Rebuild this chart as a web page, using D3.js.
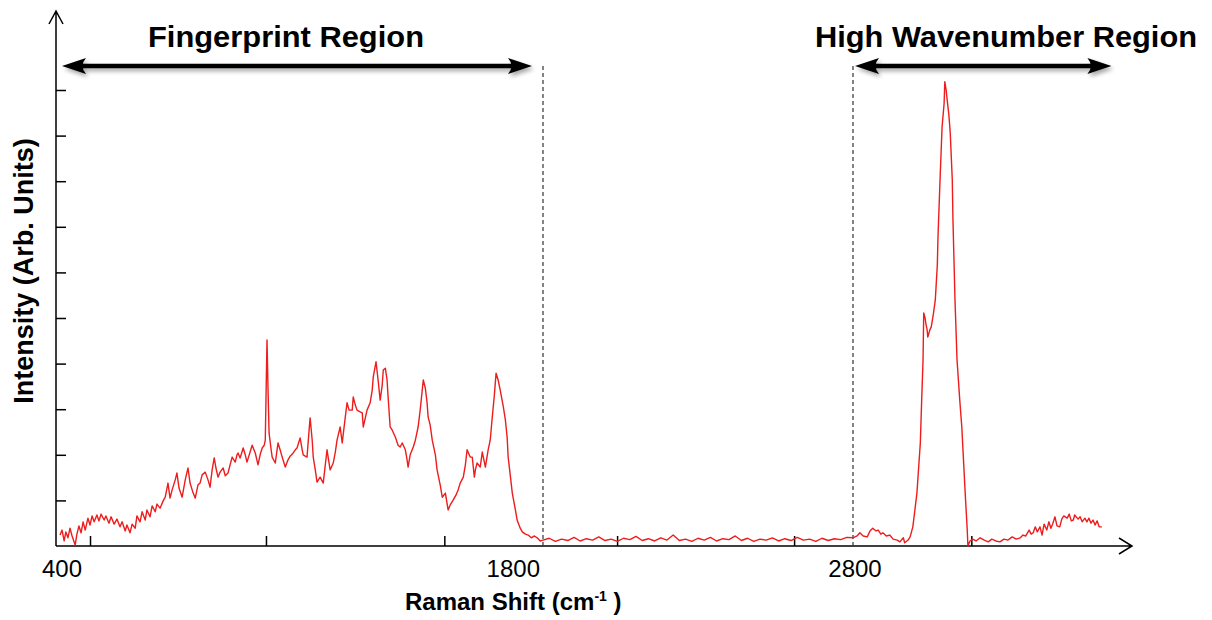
<!DOCTYPE html>
<html>
<head>
<meta charset="utf-8">
<script src="https://cdn.jsdelivr.net/npm/d3@7"></script>
<style>
  body { margin: 0; background: #fff; }
  svg { display: block; font-family: "Liberation Sans", Arial, sans-serif; }
  .tick_label { font-size: 24px; fill: #000; }
  .region_label { font-size: 30px; font-weight: bold; fill: #000; }
  .axis_label { font-weight: bold; fill: #000; }
</style>
</head>
<body>
<script>
var width = 1212, height = 620;

// Fingerprint part of the spectrum (Raman shift in cm-1, intensity in arb. units)
var fingerprintShift = [400, 406, 412, 417, 423, 429, 435, 444, 449, 455, 461, 467, 473, 481, 487, 493, 499, 507, 513, 519,
  528, 533, 542, 548, 557, 565, 574, 580, 589, 594, 603, 609, 618, 623, 632, 638, 647, 652, 661, 667,
  676, 681, 690, 699, 705, 713, 719, 725, 734, 739, 745, 754, 763, 771, 777, 786, 792, 800, 806, 812,
  821, 829, 835, 841, 847, 852, 858, 864, 873, 879, 887, 893, 899, 908, 913, 916, 922, 931, 937, 942,
  951, 957, 966, 974, 980, 986, 992, 995, 997, 1000, 1003, 1006, 1012, 1015, 1024, 1032, 1038, 1044, 1053, 1061,
  1067, 1076, 1082, 1087, 1096, 1102, 1105, 1111, 1116, 1122, 1125, 1131, 1134, 1140, 1145, 1154, 1163, 1169, 1174, 1183,
  1192, 1198, 1203, 1212, 1218, 1227, 1232, 1238, 1247, 1250, 1256, 1261, 1270, 1276, 1279, 1285, 1290, 1299, 1305, 1308,
  1316, 1322, 1328, 1334, 1337, 1343, 1348, 1351, 1357, 1363, 1372, 1380, 1386, 1392, 1401, 1406, 1409, 1415, 1424, 1430,
  1438, 1444, 1450, 1453, 1459, 1464, 1467, 1473, 1479, 1488, 1493, 1502, 1508, 1517, 1525, 1531, 1540, 1548, 1554, 1560,
  1569, 1575, 1580, 1589, 1595, 1601, 1604, 1609, 1618, 1624, 1633, 1641, 1647, 1653, 1659, 1664, 1670, 1676, 1685, 1691,
  1696, 1699, 1705, 1711, 1720, 1725, 1734, 1740, 1749, 1757, 1766, 1775, 1783, 1792, 1800];
var fingerprintIntensity = [0.24, 0.35, 0.11, 0.31, 0.18, 0.39, 0.22, 0.02, 0.26, 0.44, 0.29, 0.53, 0.35, 0.61, 0.46, 0.66, 0.53, 0.68, 0.55, 0.70,
  0.57, 0.66, 0.50, 0.64, 0.48, 0.59, 0.42, 0.53, 0.33, 0.46, 0.29, 0.48, 0.39, 0.66, 0.53, 0.75, 0.57, 0.79, 0.64, 0.88,
  0.75, 0.92, 0.83, 0.99, 1.07, 1.38, 1.05, 1.23, 1.45, 1.60, 1.27, 1.07, 1.45, 1.71, 1.38, 1.16, 1.05, 1.34, 1.38, 1.56,
  1.62, 1.45, 1.29, 1.67, 1.93, 1.71, 1.51, 1.62, 1.71, 1.54, 1.60, 1.78, 1.95, 1.84, 2.00, 2.04, 1.93, 2.15, 2.00, 1.84,
  2.06, 2.21, 2.04, 1.78, 2.00, 2.15, 2.21, 2.32, 3.20, 4.52, 3.42, 2.48, 2.11, 1.95, 1.82, 2.26, 2.11, 1.95, 1.73, 1.89,
  1.97, 2.04, 2.11, 2.15, 2.37, 2.11, 2.00, 1.97, 1.95, 2.54, 2.81, 2.32, 1.95, 1.67, 1.40, 1.51, 1.38, 1.78, 2.11, 1.67,
  1.82, 2.06, 2.32, 2.61, 2.26, 2.83, 3.14, 2.98, 2.98, 3.27, 3.09, 2.98, 2.94, 2.92, 2.61, 2.81, 2.98, 3.14, 3.42, 3.71,
  4.04, 3.64, 3.20, 3.53, 3.86, 3.90, 3.64, 3.27, 2.61, 2.54, 2.39, 2.21, 2.17, 2.26, 2.11, 1.89, 1.73, 2.00, 2.17, 2.32,
  2.61, 2.98, 3.42, 3.64, 3.46, 3.14, 2.83, 2.65, 2.32, 2.00, 1.67, 1.34, 1.07, 1.16, 0.79, 0.90, 1.01, 1.12, 1.23, 1.38,
  1.51, 1.78, 2.11, 1.95, 1.95, 1.51, 1.67, 1.82, 1.73, 2.06, 1.73, 2.11, 2.32, 2.83, 3.31, 3.79, 3.64, 3.42, 3.05, 2.76,
  2.39, 1.95, 1.56, 1.16, 0.79, 0.57, 0.39, 0.31, 0.26, 0.24, 0.18, 0.22, 0.18, 0.11, 0.13];

// Silent region between the two windows
var silentShift = [1820, 1840, 1860, 1880, 1900, 1920, 1940, 1960, 1980, 2000, 2020, 2040, 2060, 2080, 2100, 2120, 2140, 2160, 2180, 2200,
  2220, 2240, 2260, 2280, 2300, 2320, 2340, 2360, 2380, 2400, 2420, 2440, 2460, 2480, 2500, 2520, 2540, 2560, 2580, 2600,
  2620, 2640, 2660, 2680, 2700, 2720, 2740, 2760, 2780];
var silentIntensity = [0.17, 0.10, 0.15, 0.12, 0.19, 0.11, 0.16, 0.13, 0.20, 0.12, 0.15, 0.10, 0.17, 0.14, 0.21, 0.12, 0.16, 0.11, 0.18, 0.13,
  0.24, 0.12, 0.15, 0.10, 0.17, 0.13, 0.19, 0.11, 0.16, 0.14, 0.22, 0.12, 0.17, 0.10, 0.15, 0.13, 0.18, 0.11, 0.16, 0.12,
  0.19, 0.13, 0.15, 0.10, 0.17, 0.12, 0.16, 0.14, 0.19];

// High wavenumber part
var highShift = [2800, 2806, 2810, 2815, 2821, 2825, 2829, 2834, 2837, 2841, 2844, 2849, 2854, 2859, 2865, 2869, 2874, 2876, 2881, 2884,
  2888, 2891, 2894, 2899, 2901, 2903, 2904, 2906, 2907, 2909, 2910, 2913, 2915, 2918, 2921, 2924, 2925, 2928, 2931, 2934,
  2935, 2937, 2938, 2941, 2943, 2946, 2947, 2950, 2953, 2957, 2960, 2965, 2968, 2969, 2972, 2976, 2981, 2987, 2993, 2999,
  3004, 3010, 3016, 3022, 3028, 3034, 3040, 3046, 3050, 3054, 3059, 3062, 3065, 3068, 3071, 3075, 3078, 3081, 3085, 3088,
  3091, 3094, 3097, 3100, 3104, 3107, 3110, 3115, 3118, 3121, 3124, 3126, 3131, 3134, 3137, 3141, 3144, 3147, 3150, 3153,
  3156, 3159, 3162, 3166];
var highIntensity = [0.18, 0.22, 0.29, 0.22, 0.20, 0.33, 0.39, 0.33, 0.35, 0.26, 0.29, 0.22, 0.24, 0.15, 0.13, 0.09, 0.18, 0.07, 0.13, 0.20,
  0.42, 0.79, 1.16, 2.26, 3.20, 4.08, 5.11, 5.00, 4.89, 4.74, 4.58, 4.74, 4.80, 5.07, 5.39, 6.16, 6.78, 8.03, 9.19, 9.71,
  10.18, 10.00, 9.85, 9.45, 9.06, 8.03, 7.15, 5.39, 4.08, 3.20, 2.61, 1.16, 0.35, 0.00, 0.11, 0.15, 0.11, 0.18, 0.13, 0.09,
  0.15, 0.11, 0.09, 0.15, 0.13, 0.20, 0.15, 0.18, 0.24, 0.22, 0.35, 0.26, 0.29, 0.42, 0.31, 0.42, 0.24, 0.48, 0.35, 0.53,
  0.39, 0.50, 0.64, 0.44, 0.42, 0.59, 0.66, 0.61, 0.70, 0.55, 0.57, 0.68, 0.59, 0.64, 0.53, 0.61, 0.53, 0.61, 0.50, 0.57,
  0.46, 0.55, 0.42, 0.42];

// Axes
var yTicks = [1, 2, 3, 4, 5, 6, 7, 8, 9, 10];
var xTicks = [487, 997, 1514, 2039, 2610, 2974];
var xTickLabels = [400, 1800, 2800];

// Annotated regions
var regionNames = ["Fingerprint Region", "High Wavenumber Region"];
var regionStart = [400, 2800];
var regionEnd = [1800, 3180];

var spectrum = [];
[[fingerprintShift, fingerprintIntensity], [silentShift, silentIntensity], [highShift, highIntensity]].forEach(function(part){
  part[0].forEach(function(s, i){
    spectrum.push({shift: s, intensity: part[1][i]});
  });
});

var svg = d3.select("body")
            .append("svg")
            .attr("width", width)
            .attr("height", height);

var defs = svg.append("defs");
var shadow = defs.append("filter")
    .attr("id", "shadow")
    .attr("x", "-5%").attr("y", "-100%")
    .attr("width", "110%").attr("height", "300%");
shadow.append("feDropShadow")
    .attr("dx", 2).attr("dy", 3)
    .attr("stdDeviation", 2)
    .attr("flood-color", "#000")
    .attr("flood-opacity", 0.35);

// scales: the figure compresses the silent region, so the x scale is piecewise
var xScale = d3.scaleLinear()
               .domain([400, 1800, 2800, 3200])
               .range([60, 543, 853, 1125]);

var yScale = d3.scaleLinear()
               .domain([0, 10])
               .range([546, 90]);

var axisX = 56;          // y axis position
var axisY = yScale(0);   // x axis position

// Y axis ticks (pointing inside)
var yAxis = d3.axisLeft(yScale)
              .tickValues(yTicks)
              .tickSize(-10)
              .tickFormat("");

var gy = svg.append("g")
    .attr("transform", "translate(" + axisX + ",0)")
    .call(yAxis);
gy.select(".domain").remove();
gy.selectAll(".tick line").attr("stroke", "#000").attr("stroke-width", 1.5);

// X axis ticks
var xAxis = d3.axisBottom(xScale)
              .tickValues(xTicks)
              .tickSize(-10)
              .tickFormat("");

var gx = svg.append("g")
    .attr("transform", "translate(0," + axisY + ")")
    .call(xAxis);
gx.select(".domain").remove();
gx.selectAll(".tick line").attr("stroke", "#000").attr("stroke-width", 1.5);

// axis lines with open arrow heads
svg.append("path")
    .attr("d", "M" + axisX + "," + axisY + " L" + axisX + ",11 M" + (axisX - 7) + ",24 L" + axisX + ",11 L" + (axisX + 7) + ",24")
    .attr("fill", "none")
    .attr("stroke", "#000")
    .attr("stroke-width", 1.5);

svg.append("path")
    .attr("d", "M" + axisX + "," + axisY + " L1132," + axisY + " M1119," + (axisY - 8) + " L1132," + axisY + " L1119," + (axisY + 8))
    .attr("fill", "none")
    .attr("stroke", "#000")
    .attr("stroke-width", 1.5);

// dashed region borders
var arrowY = 66;
svg.selectAll(".border")
    .data([1800, 2800])
    .enter()
    .append("line")
    .attr("class", "border")
    .attr("x1", function(d){ return xScale(d); })
    .attr("x2", function(d){ return xScale(d); })
    .attr("y1", arrowY)
    .attr("y2", axisY)
    .attr("stroke", "#333")
    .attr("stroke-width", 1.2)
    .attr("stroke-dasharray", "4,3");

// spectrum
var line = d3.line()
    .x(function(d){ return xScale(d.shift); })
    .y(function(d){ return yScale(d.intensity); });

svg.append("path")
    .datum(spectrum)
    .attr("d", line)
    .attr("fill", "none")
    .attr("stroke", "#ee1c1c")
    .attr("stroke-width", 1.4)
    .attr("stroke-linejoin", "round");

// double headed arrows
function arrowHead(x, y, dir) {
  // dir = 1 points right, -1 points left
  var l = 24, w = 8;
  return "M" + x + "," + y +
         " L" + (x - dir * l) + "," + (y - w) +
         " Q" + (x - dir * (l - 7)) + "," + y + " " + (x - dir * l) + "," + (y + w) + " Z";
}

regionNames.forEach(function(name, i){
  var x1 = xScale(regionStart[i]) + 2;
  var x2 = xScale(regionEnd[i]) - (i == 0 ? 11 : 0);
  var g = svg.append("g").attr("filter", "url(#shadow)");
  g.append("line")
    .attr("x1", x1 + 12).attr("x2", x2 - 12)
    .attr("y1", arrowY).attr("y2", arrowY)
    .attr("stroke", "#000")
    .attr("stroke-width", 4.5);
  g.append("path").attr("d", arrowHead(x2, arrowY, 1)).attr("fill", "#000");
  g.append("path").attr("d", arrowHead(x1, arrowY, -1)).attr("fill", "#000");
});

// region titles
svg.append("text")
    .attr("class", "region_label")
    .attr("x", 148)
    .attr("y", 47)
    .attr("textLength", 276)
    .attr("lengthAdjust", "spacingAndGlyphs")
    .text(regionNames[0]);

svg.append("text")
    .attr("class", "region_label")
    .attr("x", 815)
    .attr("y", 47)
    .attr("textLength", 382)
    .attr("lengthAdjust", "spacingAndGlyphs")
    .text(regionNames[1]);

// x tick labels
svg.selectAll(".tick_label")
    .data(xTickLabels)
    .enter()
    .append("text")
    .attr("class", "tick_label")
    .attr("x", function(d){ return d == 1800 ? xScale(d) - 3 : xScale(d) + 2; })
    .attr("y", 577)
    .attr("text-anchor", function(d){ return d == 1800 ? "end" : "middle"; })
    .text(function(d){ return d; });

// X axis label
var xl = svg.append("text")
    .attr("class", "axis_label")
    .attr("x", 405)
    .attr("y", 610)
    .style("font-size", "24px");
xl.append("tspan").text("Raman Shift (cm");
xl.append("tspan").attr("dy", -9).style("font-size", "14px").text("-1");
xl.append("tspan").attr("dy", 9).text(" )");

// Y axis label
svg.append("text")
    .attr("class", "axis_label")
    .attr("transform", "translate(33,271) rotate(-90)")
    .attr("text-anchor", "middle")
    .style("font-size", "27px")
    .text("Intensity (Arb. Units)");
</script>
</body>
</html>
